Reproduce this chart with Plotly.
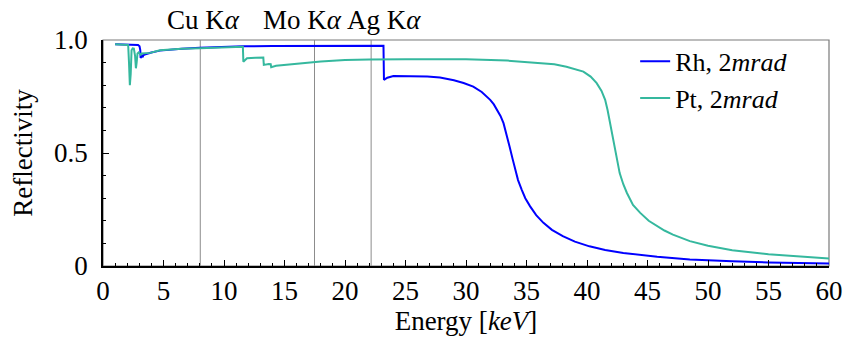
import plotly.graph_objects as go

# ---------------- data ----------------
rh_energy = [1.0, 1.5, 2.0, 2.5, 2.9, 3.02, 3.08, 3.11, 3.16, 3.22, 3.28, 3.33, 3.45, 3.7, 4.0, 4.7,
             5.3, 6.5, 8.0, 10.0, 11.6, 14.0, 16.3, 19.0, 21.0, 23.18, 23.22, 23.5, 24.0, 25.0,
             26.0, 26.8, 27.85, 29.0, 29.8, 30.6, 31.3, 32.0, 32.3, 32.6, 32.85, 33.1, 33.35, 33.6,
             33.85, 34.05, 34.3, 34.6, 34.9, 35.3, 35.8, 36.4, 37.1, 38.0, 39.0, 40.2, 41.5, 43.0,
             44.5, 45.8, 48.5, 50.0, 52.0, 55.0, 58.0, 60.0]
rh_refl = [0.981, 0.981, 0.981, 0.980, 0.978, 0.972, 0.955, 0.921, 0.926, 0.930, 0.924, 0.932, 0.936,
           0.941, 0.945, 0.953, 0.956, 0.961, 0.966, 0.970, 0.972, 0.973, 0.974, 0.975, 0.975,
           0.975, 0.824, 0.833, 0.841, 0.841, 0.840, 0.838, 0.834, 0.822, 0.810, 0.794, 0.770,
           0.735, 0.715, 0.690, 0.664, 0.632, 0.585, 0.529, 0.474, 0.426, 0.380, 0.338, 0.300,
           0.264, 0.225, 0.191, 0.160, 0.132, 0.108, 0.087, 0.071, 0.058, 0.048, 0.041, 0.029,
           0.025, 0.021, 0.016, 0.013, 0.011]

pt_energy = [1.0, 1.5, 1.9, 2.08, 2.15, 2.22, 2.29, 2.36, 2.45, 2.55, 2.65, 2.72, 2.78, 2.85, 2.95,
             3.05, 3.12, 3.2, 3.3, 3.5, 3.9, 4.7, 5.5, 6.5, 8.0, 10.0, 11.3, 11.56, 11.6, 11.9,
             12.6, 13.25, 13.29, 13.5, 13.7, 13.86, 13.9, 14.3, 15.0, 16.3, 18.0, 20.0, 22.0,
             25.0, 27.85, 30.0, 33.4, 36.1, 37.3, 38.3, 39.0, 39.7, 40.3, 40.8, 41.2, 41.5, 41.7,
             41.9, 42.1, 42.3, 42.5, 42.7, 43.0, 43.3, 43.8, 44.4, 45.1, 45.8, 46.4, 47.1, 48.5,
             50.0, 52.0, 55.0, 58.0, 60.0]
pt_refl = [0.981, 0.981, 0.980, 0.978, 0.900, 0.800, 0.850, 0.955, 0.963, 0.962, 0.930, 0.875,
           0.900, 0.940, 0.945, 0.938, 0.935, 0.940, 0.940, 0.941, 0.943, 0.955, 0.958, 0.961,
           0.963, 0.966, 0.969, 0.970, 0.904, 0.919, 0.921, 0.922, 0.890, 0.893, 0.894, 0.893,
           0.880, 0.886, 0.890, 0.898, 0.905, 0.911, 0.914, 0.915, 0.916, 0.915, 0.909, 0.900,
           0.893, 0.882, 0.872, 0.860, 0.838, 0.809, 0.775, 0.735, 0.690, 0.632, 0.572, 0.514,
           0.460, 0.411, 0.362, 0.323, 0.270, 0.235, 0.200, 0.176, 0.157, 0.139, 0.110, 0.090,
           0.070, 0.052, 0.040, 0.033]

series_names = ["Rh, 2<i>mrad</i>", "Pt, 2<i>mrad</i>"]
series_colors = ["#0000ff", "#35b89e"]

line_energies = [8.04, 17.48, 22.16]
line_labels = ["Cu K<i>α</i>", "Mo K<i>α</i>", "Ag K<i>α</i>"]
label_offsets = [0.3, -1.0, 1.1]

x_ticks = list(range(0, 61, 5))
y_ticks = [0, 0.5, 1.0]
y_ticktext = ["0", "0.5", "1.0"]

FONT = "'Liberation Serif', 'DejaVu Serif', 'Noto Serif', serif"
FS = 27

fig = go.Figure()
for xs, ys, name, col, grp in [(rh_energy, rh_refl, series_names[0], series_colors[0], "a"),
                               (pt_energy, pt_refl, series_names[1], series_colors[1], "b")]:
    fig.add_trace(go.Scatter(x=xs, y=ys, mode="lines", name=name, legendgroup=grp,
                             line=dict(color=col, width=2)))

# grey frame (top/right)
fig.add_shape(type="rect", xref="paper", yref="paper", x0=0, x1=1, y0=0, y1=1,
              line=dict(color="#7a7a7a", width=1.2), layer="below")

for e, lab, off in zip(line_energies, line_labels, label_offsets):
    fig.add_shape(type="line", xref="x", yref="paper", x0=e, x1=e, y0=0, y1=1,
                  line=dict(color="#8c8c8c", width=1), layer="below")
    fig.add_annotation(x=e + off, xref="x", y=1.088, yref="paper", text=lab, showarrow=False,
                       xanchor="center", yanchor="middle", font=dict(family=FONT, size=FS, color="black"))

fig.update_layout(
    width=845, height=341,
    margin=dict(l=103, r=16, t=40, b=75),
    paper_bgcolor="white", plot_bgcolor="white",
    font=dict(family=FONT, size=FS, color="black"),
    showlegend=True,
    legend=dict(x=0.733, y=1.01, xanchor="left", yanchor="top", bgcolor="rgba(0,0,0,0)",
                itemwidth=30, tracegroupgap=0, traceorder="grouped",
                font=dict(family=FONT, size=26, color="black")),
    xaxis=dict(range=[0, 60], tickvals=x_ticks, ticks="inside", ticklen=6, tickcolor="black",
               showline=True, linecolor="black", linewidth=1.5, showgrid=False, zeroline=False,
               automargin=False,
               minor=dict(ticks="inside", dtick=1, ticklen=3, tickcolor="black"),
               ticklabelstandoff=0,
               title=dict(text="Energy [<i>keV</i>]", standoff=2, font=dict(size=FS))),
    yaxis=dict(range=[0, 1.0], tickvals=y_ticks, ticktext=y_ticktext, ticks="inside", ticklen=6,
               tickcolor="black", showline=True, linecolor="black", linewidth=1.5, showgrid=False,
               zeroline=False, automargin=False,
               minor=dict(ticks="inside", dtick=0.1, ticklen=3, tickcolor="black"),
               ticklabelstandoff=8,
               title=dict(text="Reflectivity", standoff=14, font=dict(size=FS))),
)

fig.write_html("out.html", config={"displayModeBar": False},
               post_script="document.body.style.margin='0px';")
